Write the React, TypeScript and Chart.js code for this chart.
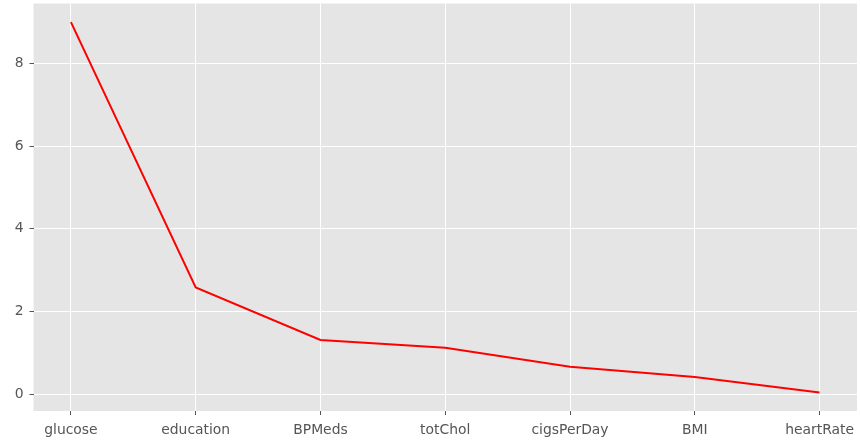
import React, { useEffect, useRef } from "react";
import { Chart, registerables } from "chart.js";

Chart.register(...registerables);

const categories = ["glucose", "education", "BPMeds", "totChol", "cigsPerDay", "BMI", "heartRate"];
const values = [9.0, 2.58, 1.31, 1.12, 0.66, 0.41, 0.04];
const yTicks = [0, 2, 4, 6, 8];

const bgPlugin = {
  id: "panelBg",
  beforeDraw(chart: any) {
    const { ctx, chartArea } = chart;
    ctx.save();
    ctx.fillStyle = "#E5E5E5";
    ctx.fillRect(chartArea.left, chartArea.top, chartArea.right - chartArea.left, chartArea.bottom - chartArea.top);
    ctx.restore();
  },
};

export default function App() {
  const ref = useRef<HTMLCanvasElement>(null);
  useEffect(() => {
    document.body.style.margin = "0";
    const font = { family: "DejaVu Sans", size: 13.9 };
    const chart = new Chart(ref.current!, {
      type: "line",
      data: {
        datasets: [
          {
            data: values.map((v, i) => ({ x: i, y: v })),
            borderColor: "#FF0000",
            borderWidth: 2,
            pointRadius: 0,
            tension: 0,
            fill: false,
          },
        ],
      },
      options: {
        animation: false,
        responsive: false,
        maintainAspectRatio: false,
        layout: { padding: { top: 3.5, right: 3, left: 0, bottom: 0 } },
        plugins: { legend: { display: false }, tooltip: { enabled: false } },
        scales: {
          x: {
            type: "linear",
            min: -0.3,
            max: 6.3,
            afterBuildTicks: (s: any) => {
              s.ticks = categories.map((_, i) => ({ value: i }));
            },
            afterFit: (s: any) => {
              s.height = 31;
              s.paddingLeft = 0;
              s.paddingRight = 0;
              s.paddingTop = 0;
              s.paddingBottom = 0;
            },
            ticks: {
              autoSkip: false,
              maxRotation: 0,
              color: "#555555",
              font,
              padding: 7,
              callback: (v: any) => categories[Math.round(Number(v))] ?? "",
            },
            grid: { color: "#FFFFFF", lineWidth: 1, tickColor: "#555555", tickLength: 4 },
            border: { display: false },
          },
          y: {
            type: "linear",
            min: -0.41,
            max: 9.45,
            afterBuildTicks: (s: any) => {
              s.ticks = yTicks.map((v) => ({ value: v }));
            },
            afterFit: (s: any) => {
              s.width = 33.5;
              s.paddingTop = 0;
              s.paddingBottom = 0;
              s.paddingLeft = 0;
              s.paddingRight = 0;
            },
            ticks: { color: "#555555", font, padding: 6 },
            grid: { color: "#FFFFFF", lineWidth: 1, tickColor: "#555555", tickLength: 4 },
            border: { display: false },
          },
        },
      },
      plugins: [bgPlugin],
    });
    return () => chart.destroy();
  }, []);
  return (
    <div style={{ position: "fixed", left: 0, top: 0, width: 860, height: 442, background: "#fff" }}>
      <canvas ref={ref} width={860} height={442} style={{ width: 860, height: 442, display: "block" }} />
    </div>
  );
}
